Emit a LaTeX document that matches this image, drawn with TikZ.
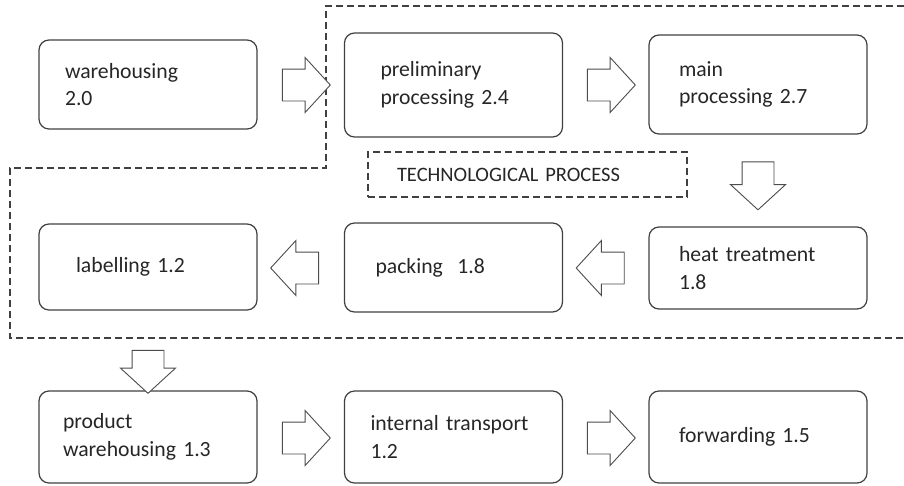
\documentclass[tikz,border=0pt]{standalone}
\usepackage{fontspec}
\setmainfont{Carlito}
\usetikzlibrary{shapes.arrows, positioning}

\begin{document}
\begin{tikzpicture}[x=1pt, y=-1pt,
  stage/.style={draw=black!75, line width=1.2pt, rounded corners=10pt,
    minimum width=218pt, inner xsep=#1, text width={218pt-2*(#1)},
    align=left, font=\fontsize{21.7}{27.5}\selectfont, text=black!85},
  stage/.default=28pt,
  blockarrow/.style={single arrow, draw=black!70, fill=white, line width=0.9pt,
    minimum height=48pt, minimum width=54pt, single arrow head extend=11.5pt,
    single arrow tip angle=95, single arrow head indent=0pt,
    inner xsep=0pt, inner ysep=15.5pt},
  border/.style={draw=black!75, line width=1.2pt, dash pattern=on 7pt off 4pt}]
  \useasboundingbox (0,0) rectangle (904,485);

  % technological process outline (open to the right)
  \draw[border] (904,6) -- (326,6) -- (326,168) -- (10,168) -- (10,338) -- (904,338);
  \node[border, minimum width=319pt, minimum height=45pt, inner xsep=29pt,
        text width=261pt, align=left, font=\fontsize{20.5}{24}\selectfont, text=black!85]
        (tech) at (527.5,174.5) {TECHNOLOGICAL PROCESS};

  % first row
  \node[stage=26pt, minimum height=89pt]  (ware)   at (148,84.5)   {warehousing\\2.0};
  \node[stage=36pt, minimum height=104pt] (prelim) at (453.5,85)   {preliminary\\processing 2.4};
  \node[stage=30pt, minimum height=99pt]  (main)   at (758,84.5)   {main\\processing 2.7};

  % second row, read right to left
  \node[stage=37pt, minimum height=86pt]  (label)  at (148,267)    {labelling 1.2};
  \node[stage=31pt, minimum height=89pt]  (pack)   at (453.5,267.5) {packing~~1.8};
  \node[stage=30pt, minimum height=82pt]  (heat)   at (758,268)    {heat treatment\\1.8};

  % third row
  \node[stage=24pt, minimum height=92pt]  (prod)   at (148,437)    {product\\warehousing 1.3};
  \node[stage=26pt, minimum height=92pt]  (intern) at (453.5,437)  {internal transport\\1.2};
  \node[stage=30pt, minimum height=92pt]  (fwd)    at (758,437)    {forwarding 1.5};

  % block arrows between the stages
  \node[blockarrow]                 (a1) at (299,85)     {};
  \node[blockarrow]                 (a2) at (604,85)     {};
  \node[blockarrow, rotate=-90]     (a3) at (758,178.5)  {};
  \node[blockarrow, rotate=180]     (a4) at (607.5,268)  {};
  \node[blockarrow, rotate=180]     (a5) at (302,268)    {};
  \node[blockarrow, rotate=-90, minimum height=43pt] (a6) at (148,364.5) {};
  \node[blockarrow]                 (a7) at (299,438)    {};
  \node[blockarrow]                 (a8) at (604,438)    {};
\end{tikzpicture}
\end{document}
